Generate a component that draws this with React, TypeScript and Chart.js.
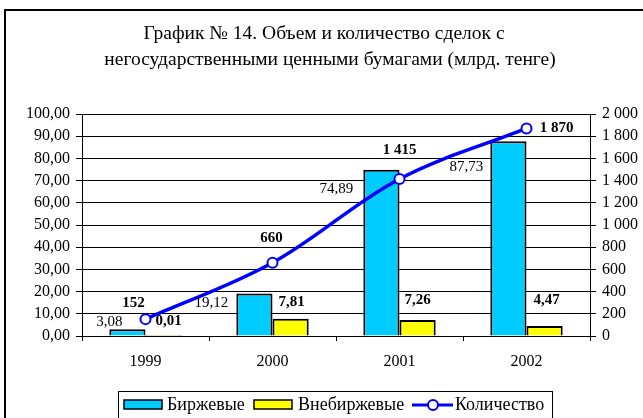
import React, { useEffect, useRef } from 'react';
import { Chart, registerables } from 'chart.js';

Chart.register(...registerables);

const years = ['1999', '2000', '2001', '2002'];
const exchangeVolumes = [3.08, 19.12, 74.89, 87.73];
const otcVolumes = [0.01, 7.81, 7.26, 4.47];
const dealCounts = [152, 660, 1415, 1870];
const titleLines = [
  'График № 14. Объем и количество сделок с',
  'негосударственными ценными бумагами (млрд. тенге)',
];
const seriesNames = ['Биржевые', 'Внебиржевые', 'Количество'];

const SERIF = "'Liberation Serif', 'Times New Roman', serif";
const BLUE_FILL = '#00CCFF';
const YELLOW_FILL = '#FFFF00';
const LINE_BLUE = '#0000FF';

const fmtLeft = (v: number) => v.toFixed(2).replace('.', ',');
const fmtRight = (v: number) =>
  String(Math.round(v)).replace(/\B(?=(\d{3})+(?!\d))/g, ' ');

// label offsets relative to the mark (pixels)
const exchangeLabelOffsets = [
  [-18, -7],
  [-43, 10],
  [-45, 19],
  [-42, 26],
];
const otcLabelOffsets = [
  [5, -15],
  [1, -17],
  [0, -20],
  [2, -26],
];
const countLabelOffsets = [
  [-12, -16],
  [-1, -25],
  [0, -29],
  [30, 0],
];

const decorPlugin = {
  id: 'decor',
  beforeDraw(chart: any) {
    const ctx = chart.ctx;
    ctx.save();
    ctx.fillStyle = '#fff';
    ctx.fillRect(0, 0, chart.width, chart.height);
    // outer frame
    ctx.strokeStyle = '#000';
    ctx.lineWidth = 2;
    ctx.beginPath();
    ctx.moveTo(5, chart.height + 5);
    ctx.lineTo(5, 10);
    ctx.lineTo(chart.width + 5, 10);
    ctx.stroke();
    // title
    ctx.fillStyle = '#000';
    ctx.font = `19.5px ${SERIF}`;
    ctx.textAlign = 'center';
    ctx.textBaseline = 'middle';
    ctx.fillText(titleLines[0], 324, 34);
    ctx.fillText(titleLines[1], 330, 60);
    ctx.restore();
  },
  afterDraw(chart: any) {
    const ctx = chart.ctx;
    ctx.save();
    // legend box
    ctx.strokeStyle = '#000';
    ctx.lineWidth = 1;
    ctx.strokeRect(118.5, 391.5, 434, 40);
    const cy = 405;
    ctx.font = `18px ${SERIF}`;
    ctx.textAlign = 'left';
    ctx.textBaseline = 'middle';
    ctx.fillStyle = '#000';
    // item 1
    ctx.fillStyle = BLUE_FILL;
    ctx.fillRect(124, 400, 38, 9);
    ctx.lineWidth = 1.5;
    ctx.strokeRect(124, 400, 38, 9);
    ctx.fillStyle = '#000';
    ctx.fillText(seriesNames[0], 167, cy);
    // item 2
    ctx.fillStyle = YELLOW_FILL;
    ctx.fillRect(254, 400, 38, 9);
    ctx.strokeRect(254, 400, 38, 9);
    ctx.fillStyle = '#000';
    ctx.fillText(seriesNames[1], 298, cy);
    // item 3
    ctx.strokeStyle = LINE_BLUE;
    ctx.lineWidth = 3;
    ctx.beginPath();
    ctx.moveTo(412, cy);
    ctx.lineTo(453, cy);
    ctx.stroke();
    ctx.fillStyle = '#fff';
    ctx.lineWidth = 2;
    ctx.beginPath();
    ctx.arc(433, cy, 5, 0, Math.PI * 2);
    ctx.fill();
    ctx.stroke();
    ctx.fillStyle = '#000';
    ctx.fillText(seriesNames[2], 455, cy);
    ctx.restore();
  },
  afterDatasetsDraw(chart: any) {
    const ctx = chart.ctx;
    ctx.save();
    ctx.fillStyle = '#000';
    ctx.textBaseline = 'middle';
    ctx.textAlign = 'center';
    const m0 = chart.getDatasetMeta(0);
    const m1 = chart.getDatasetMeta(1);
    const m2 = chart.getDatasetMeta(2);
    ctx.font = `15px ${SERIF}`;
    m0.data.forEach((el: any, i: number) => {
      const [dx, dy] = exchangeLabelOffsets[i];
      ctx.fillText(fmtLeft(exchangeVolumes[i]), el.x + dx, el.y + dy);
    });
    ctx.font = `bold 15px ${SERIF}`;
    m1.data.forEach((el: any, i: number) => {
      const [dx, dy] = otcLabelOffsets[i];
      ctx.fillText(fmtLeft(otcVolumes[i]), el.x + dx, el.y + dy);
    });
    m2.data.forEach((el: any, i: number) => {
      const [dx, dy] = countLabelOffsets[i];
      ctx.fillText(fmtRight(dealCounts[i]), el.x + dx, el.y + dy);
    });
    ctx.restore();
  },
};

export default function App() {
  const ref = useRef<HTMLCanvasElement | null>(null);
  useEffect(() => {
    if (!ref.current) return;
    const chart = new Chart(ref.current, {
      type: 'bar',
      data: {
        labels: years,
        datasets: [
          {
            type: 'bar',
            label: seriesNames[0],
            data: exchangeVolumes,
            backgroundColor: BLUE_FILL,
            borderColor: '#000',
            borderWidth: 2,
            yAxisID: 'y',
            order: 2,
            categoryPercentage: 0.57,
            barPercentage: 1,
          },
          {
            type: 'bar',
            label: seriesNames[1],
            data: otcVolumes,
            backgroundColor: YELLOW_FILL,
            borderColor: '#000',
            borderWidth: 2,
            yAxisID: 'y',
            order: 2,
            categoryPercentage: 0.57,
            barPercentage: 1,
          },
          {
            type: 'line',
            label: seriesNames[2],
            data: dealCounts,
            borderColor: LINE_BLUE,
            borderWidth: 3.5,
            tension: 0.35,
            pointRadius: 5,
            pointBorderWidth: 2,
            pointBackgroundColor: '#fff',
            pointBorderColor: LINE_BLUE,
            yAxisID: 'y1',
            order: 0,
          } as any,
        ],
      },
      options: {
        responsive: false,
        animation: false,
        layout: { padding: { top: 114, left: 0, right: 0, bottom: 0 } },
        plugins: {
          legend: { display: false },
          title: { display: false },
          tooltip: { enabled: false },
        },
        scales: {
          x: {
            offset: true,
            grid: { drawOnChartArea: false, drawTicks: true, tickLength: 5, color: '#000', offset: true },
            border: { color: '#000', width: 1 },
            ticks: { color: '#000', font: { family: SERIF, size: 16 }, padding: 11 },
            afterFit: (s: any) => { s.height = 82; },
          },
          y: {
            position: 'left',
            min: 0,
            max: 100,
            ticks: { stepSize: 10, color: '#000', font: { family: SERIF, size: 16 }, padding: 6, callback: (v: any) => fmtLeft(Number(v)) },
            grid: { color: '#000', lineWidth: 1, tickLength: 6 },
            border: { color: '#000', width: 1 },
            afterFit: (s: any) => { s.width = 82; },
          },
          y1: {
            position: 'right',
            min: 0,
            max: 2000,
            ticks: { stepSize: 200, color: '#000', font: { family: SERIF, size: 16 }, padding: 6, callback: (v: any) => fmtRight(Number(v)) },
            grid: { drawOnChartArea: false, color: '#000', tickLength: 6 },
            border: { color: '#000', width: 1 },
            afterFit: (s: any) => { s.width = 53; },
          },
        },
      },
      plugins: [decorPlugin],
    });
    return () => chart.destroy();
  }, []);
  return (
    <div style={{ position: 'absolute', left: 0, top: 0, width: 643, height: 418 }}>
      <canvas ref={ref} width={643} height={418} style={{ display: 'block' }} />
    </div>
  );
}
